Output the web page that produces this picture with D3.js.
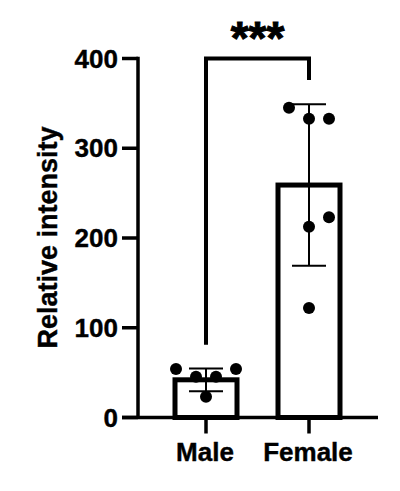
<!DOCTYPE html>
<html>
<head>
<meta charset="utf-8">
<script src="https://cdn.jsdelivr.net/npm/d3@7"></script>
<style>
  html, body { margin: 0; padding: 0; background: #fff; }
  svg { display: block; }
  text { font-family: "Liberation Sans", Arial, sans-serif; font-weight: bold; fill: #000; stroke: #000; stroke-width: 0.4px; }
</style>
</head>
<body>
<svg id="chart" width="400" height="491"></svg>
<script>
// ---- data ----
const categories = ["Male", "Female"];
const means = [42, 259];
const sds = [12.7, 90];
const malePoints = [54, 45.5, 45.5, 54, 23];
const femalePoints = [345, 333, 333, 223, 212.5, 122];
const maleSlots = [-1.5, -0.5, 0.5, 1.5, 0];
const femaleSlots = [-1, 0, 1, 1, 0, 0];
const yTicks = [0, 100, 200, 300, 400];
const yLabel = "Relative intensity";
const sigLabel = "***";
const bracket = { left: 81, top: 400, right: 376 };

// ---- layout ----
const svg = d3.select("#chart");
const y = d3.scaleLinear().domain([0, 400]).range([417.5, 58.5]);
const x = d3.scalePoint().domain(categories).range([154.5, 360.5]).padding(0.5);
const axisX = 138, axisRight = 378, tickLen = 16;
const barW = 62, capW = 34, slotStep = 20, dotR = 6;

// bars
svg.selectAll("rect.bar").data(categories).join("rect")
  .attr("class", "bar")
  .attr("x", d => x(d) - barW / 2)
  .attr("y", (d, i) => y(means[i]))
  .attr("width", barW)
  .attr("height", (d, i) => y(0) - y(means[i]))
  .attr("fill", "#fff").attr("stroke", "#000").attr("stroke-width", 5);

// points
const groups = [
  { cat: "Male", pts: malePoints, slots: maleSlots },
  { cat: "Female", pts: femalePoints, slots: femaleSlots }
];
groups.forEach(g => {
  svg.selectAll(null).data(g.pts).join("circle")
    .attr("cx", (d, i) => x(g.cat) + g.slots[i] * slotStep)
    .attr("cy", d => y(d))
    .attr("r", dotR).attr("fill", "#000");
});

// error bars
categories.forEach((c, i) => {
  const g = svg.append("g").attr("stroke", "#000").attr("stroke-width", 2);
  g.append("line").attr("x1", x(c)).attr("x2", x(c))
    .attr("y1", y(means[i] + sds[i])).attr("y2", y(means[i] - sds[i]));
  [means[i] + sds[i], means[i] - sds[i]].forEach(v => {
    g.append("line").attr("x1", x(c) - capW / 2).attr("x2", x(c) + capW / 2)
      .attr("y1", y(v)).attr("y2", y(v));
  });
});

// y axis
const ya = svg.append("g").attr("stroke", "#000").attr("stroke-width", 3.5);
ya.append("line").attr("x1", axisX).attr("x2", axisX)
  .attr("y1", y(400) - 1.75).attr("y2", y(0));
ya.selectAll(null).data(yTicks).join("line")
  .attr("x1", axisX - tickLen).attr("x2", axisX)
  .attr("y1", d => y(d)).attr("y2", d => y(d));
svg.selectAll("text.ytick").data(yTicks).join("text")
  .attr("class", "ytick")
  .attr("x", axisX - tickLen - 4)
  .attr("y", d => y(d) + 9)
  .attr("text-anchor", "end")
  .attr("font-size", 26)
  .text(d => d);

// x axis
const xa = svg.append("g").attr("stroke", "#000").attr("stroke-width", 3.5);
xa.append("line").attr("x1", axisX - tickLen).attr("x2", axisRight)
  .attr("y1", y(0)).attr("y2", y(0));
xa.selectAll(null).data(categories).join("line")
  .attr("x1", d => x(d)).attr("x2", d => x(d))
  .attr("y1", y(0)).attr("y2", y(0) + tickLen);
svg.selectAll("text.xtick").data(categories).join("text")
  .attr("class", "xtick")
  .attr("x", d => x(d) - 1)
  .attr("y", 461)
  .attr("text-anchor", "middle")
  .attr("font-size", 26)
  .text(d => d);

// y label
svg.append("text")
  .attr("transform", "translate(57,237.5) rotate(-90)")
  .attr("text-anchor", "middle")
  .attr("font-size", 27)
  .text(yLabel);

// significance bracket
svg.append("path")
  .attr("d", `M${x("Male")},${y(bracket.left)}V${y(bracket.top)}H${x("Female")}V${y(bracket.right)}`)
  .attr("fill", "none").attr("stroke", "#000").attr("stroke-width", 4)
  .attr("stroke-linejoin", "miter");
svg.append("text")
  .attr("x", (x("Male") + x("Female")) / 2)
  .attr("y", 54)
  .attr("text-anchor", "middle")
  .attr("font-size", 46)
  .style("stroke-width", "1px")
  .text(sigLabel);
</script>
</body>
</html>
